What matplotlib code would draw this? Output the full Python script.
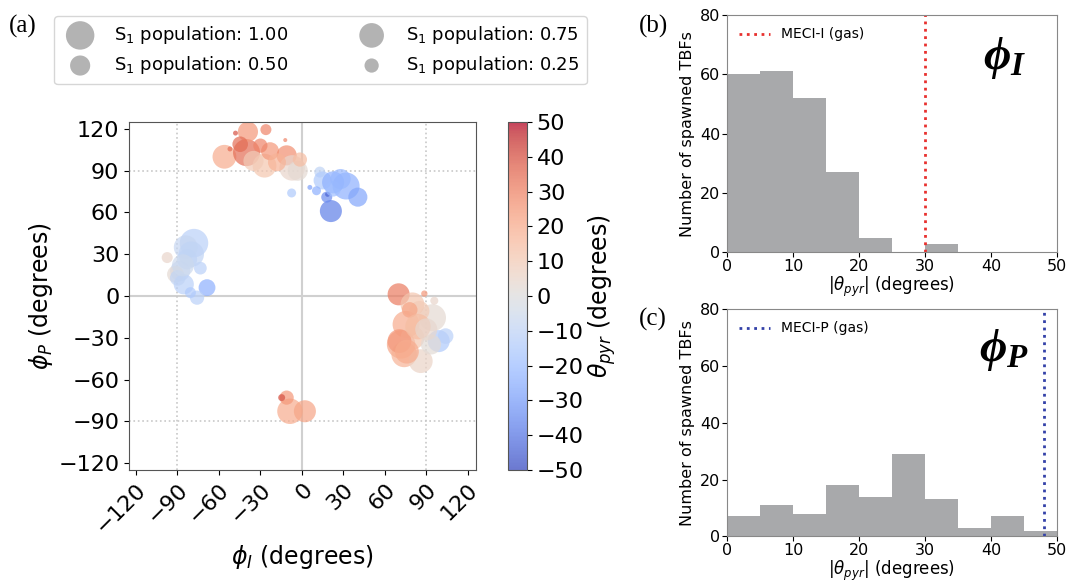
import numpy as np
import matplotlib
matplotlib.use("Agg")
import matplotlib.pyplot as plt

plt.rcParams['mathtext.fontset'] = 'dejavusans'
plt.rcParams['mathtext.it'] = 'Liberation Serif:italic:bold'
plt.rcParams['mathtext.rm'] = 'Liberation Serif:bold'
plt.rcParams['mathtext.bf'] = 'Liberation Serif:bold'

# spawning points: phi_I, phi_P, theta_pyr, S1 population
phi_i = [-56, -40, -39, -26, -48, -27, -23, -11, -7, -3, -12, -1.4, -7.4, -30, -44.6, -52,
         13, 15, 22.6, 32, 40.5, 21, 18, 18.6, 5.8, 10.6, 22.6,
         -78, -84, -97.4, -88, -91.4, -73.4, -83, -85.4, -68.6, -75.8, -80.6, -89.8,
         70, 88.6, 94.5, 80, 75.4, 71.8, 80, 74, 86, 99, 104, 93.4, 85, 95.8, 78, 70.6,
         -8.6, 2.2, -11, -14.6,
         -35, -18, -80, -86, 84, 90, 76, 28]
phi_p = [100, 103, 118, 119.5, 117, 93.6, 104, 101, 92, 90, 112, 98, 74, 108, 109, 105.6,
         89, 83, 81.6, 79, 71, 61, 71, 73, 78, 75.6, 77,
         38, 35, 27.6, 18, 15.6, 20, 26.4, 8.4, 6, -1.2, 2.4, 13,
         1.2, 1.7, -15.6, -6, -20.4, -34.8, -30, -42, -46.8, -32.4, -28.8, -34.8, -10.8, -3.4, -10, -32.4,
         -82.8, -82.8, -73, -73,
         97, 96, 30, 22, -22, -24, -40, 84]
theta_pyr = [20, 35, 25, 30, 40, 12, 25, 28, 5, 3, 30, 15, -15, 30, 35, 35,
             -10, -15, -25, -25, -28, -38, -35, -45, -30, -25, -20,
             -12, -8, 5, -8, 3, -12, -10, -12, -25, -12, -15, -10,
             32, 25, 3, 12, 20, 22, 12, 18, 6, -15, -12, 2, 10, 5, 22, 25,
             20, 22, 25, 40,
             10, 18, -10, -6, 15, 4, 20, -22]
s1_pop = [0.7, 0.9, 0.5, 0.15, 0.03, 0.7, 0.4, 0.5, 0.8, 0.5, 0.02, 0.25, 0.1, 0.25, 0.3, 0.03,
          0.15, 0.4, 0.6, 0.9, 0.45, 0.6, 0.15, 0.03, 0.03, 0.1, 0.3,
          1.0, 0.7, 0.15, 0.5, 0.35, 0.2, 0.5, 0.5, 0.35, 0.25, 0.15, 0.3,
          0.6, 0.05, 0.9, 0.7, 0.9, 1.0, 0.7, 0.8, 0.7, 0.6, 0.3, 0.5, 0.5, 0.08, 0.3, 0.7,
          0.8, 0.6, 0.25, 0.06,
          0.5, 0.4, 0.8, 0.6, 0.8, 0.6, 0.7, 0.5]

# histograms of |theta_pyr| at spawning, 5 degree bins
bin_edges = [0, 5, 10, 15, 20, 25, 30, 35, 40, 45, 50]
counts_i = [60, 61, 52, 27, 5, 0, 3, 0, 0, 0]
counts_p = [7, 11, 8, 18, 14, 29, 13, 3, 7, 2]
meci_i = 30
meci_p = 48

legend_pops = [1.00, 0.50, 0.75, 0.25]
size_scale = 420

fig = plt.figure(figsize=(10.7, 5.83), dpi=100)

# ---- (a) scatter ----
ax = fig.add_axes([0.1206, 0.1938, 0.3243, 0.597])
ax.axhline(0, color='#d0d0d0', lw=1.5, zorder=0)
ax.axvline(0, color='#d0d0d0', lw=1.5, zorder=0)
for v in [-90, 90]:
    ax.axhline(v, color='#c8c8c8', lw=1.2, ls=':', zorder=0)
    ax.axvline(v, color='#c8c8c8', lw=1.2, ls=':', zorder=0)
sc = ax.scatter(phi_i, phi_p, c=theta_pyr, s=np.array(s1_pop) * size_scale,
                cmap='coolwarm', vmin=-50, vmax=50, alpha=0.7, edgecolors='none')
ax.set_xlim(-125, 126)
ax.set_ylim(-125, 125)
ticks = [-120, -90, -60, -30, 0, 30, 60, 90, 120]
ax.set_xticks(ticks)
ax.set_yticks(ticks)
ax.set_xticklabels([str(t).replace('-', '\u2212') for t in ticks], rotation=45,
                   ha='right', rotation_mode='anchor')
ax.tick_params(labelsize=16)
ax.set_xlabel(r'$\phi_I$ (degrees)', fontsize=17)
ax.set_ylabel(r'$\phi_P$ (degrees)', fontsize=17, labelpad=2)
for sp in ax.spines.values():
    sp.set_color('#555555')

cax = fig.add_axes([0.4748, 0.1938, 0.0178, 0.597])
cb = fig.colorbar(sc, cax=cax, ticks=range(-50, 51, 10))
cb.solids.set_alpha(0.75)
cb.ax.tick_params(labelsize=16)
cb.set_label(r'$\theta_{pyr}$ (degrees)', fontsize=17, labelpad=2)
cb.outline.set_edgecolor('#555555')

handles = [ax.scatter([], [], s=p * size_scale, color='#a0a0a0', alpha=0.8, edgecolors='none')
           for p in legend_pops]
labels = ['S$_1$ population: %.2f' % p for p in legend_pops]
fig.legend(handles, labels, ncol=2, loc='upper left', bbox_to_anchor=(0.042, 0.988),
           fontsize=13, columnspacing=3.6, handletextpad=0.9, labelspacing=0.45,
           borderpad=0.45, frameon=True, edgecolor='#cccccc')

fig.text(0.008, 0.955, '(a)', fontsize=18, family='Liberation Serif', va='center')

# ---- (b), (c) histograms ----
def hist_panel(rect, counts, meci, color, name, sym, tag, tag_y):
    hx = fig.add_axes(rect)
    hx.bar(bin_edges[:-1], counts, width=5, align='edge', color='#a8a9ab')
    hx.axvline(meci, color=color, ls=':', lw=2, label=name)
    hx.set_xlim(0, 50)
    hx.set_ylim(0, 80)
    hx.set_xticks([0, 10, 20, 30, 40, 50])
    hx.set_yticks([0, 20, 40, 60, 80])
    hx.tick_params(labelsize=11.5, pad=1.5)
    hx.set_xlabel(r'|$\theta_{pyr}$| (degrees)', fontsize=12, labelpad=0)
    hx.set_ylabel('Number of spawned TBFs', fontsize=11.5, labelpad=3)
    hx.legend(loc='upper left', frameon=False, fontsize=10, handlelength=2.2)
    for sp in hx.spines.values():
        sp.set_color('#888888')
    hx.text(0.84, 0.82, sym, transform=hx.transAxes, fontsize=34,
            ha='center', va='center', math_fontfamily='custom')
    fig.text(0.597, tag_y, tag, fontsize=18, family='Liberation Serif', va='center')
    return hx

hist_panel([0.6794, 0.5669, 0.3084, 0.4074], counts_i, meci_i, '#e8312f',
           'MECI-I (gas)', r'$\phi_I$', '(b)', 0.955)
hist_panel([0.6794, 0.0800, 0.3084, 0.3900], counts_p, meci_p, '#3341a8',
           'MECI-P (gas)', r'$\phi_P$', '(c)', 0.452)

fig.savefig('out.png', dpi=100)
